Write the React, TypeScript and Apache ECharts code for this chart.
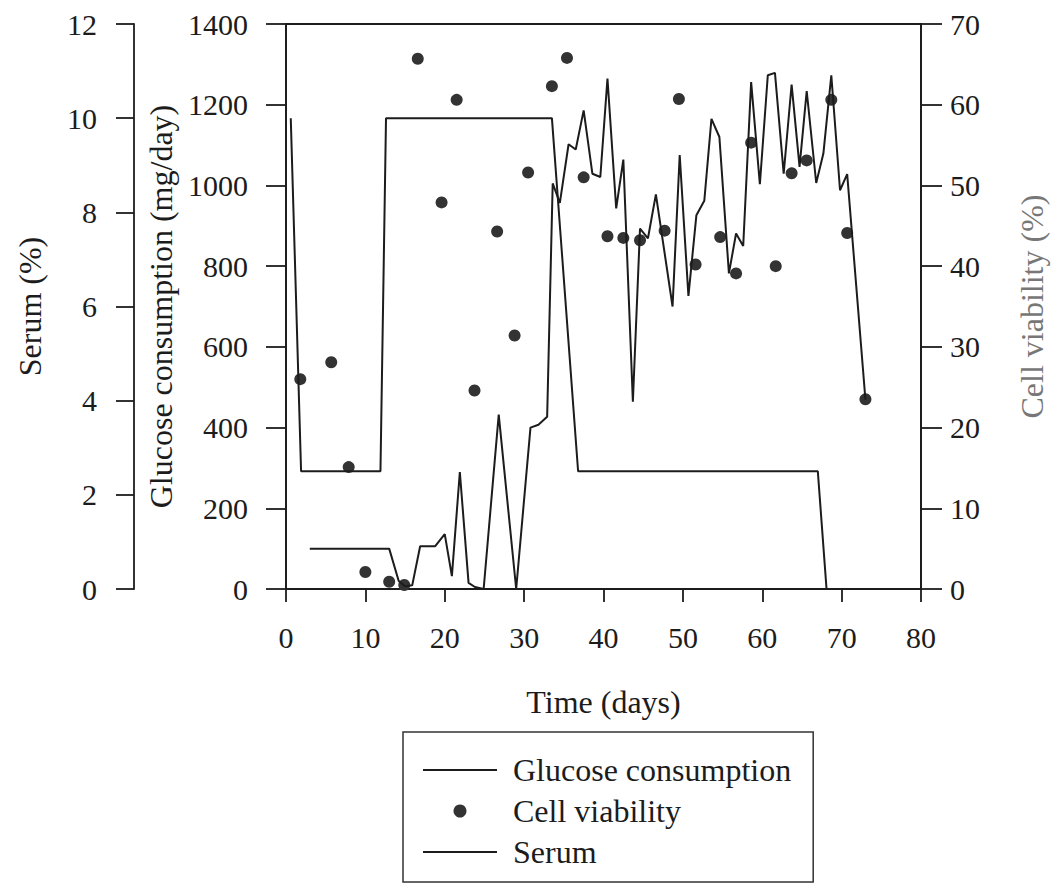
import React, { useEffect, useRef } from "react";
import * as echarts from "echarts";

const FONT = '"Liberation Serif", "Times New Roman", serif';
const INK = "#1c1c1c";

// Glucose consumption (mg/day): [day, value]
const glucoseDays = [3, 13, 14.2, 15, 15.9, 16.9, 18.8, 20, 20.9, 21.9, 23, 23.8, 24.9, 26.8, 29, 30.8, 31.8, 32.9, 33.6, 34.5, 35.6, 36.5, 37.5, 38.6, 39.6, 40.5, 41.6, 42.5, 43.7, 44.6, 45.6, 46.6, 48.7, 49.6, 50.7, 51.7, 52.7, 53.6, 54.6, 55.8, 56.7, 57.6, 58.6, 59.7, 60.7, 61.6, 62.7, 63.7, 64.7, 65.6, 66.8, 67.7, 68.7, 69.8, 70.7, 73];
const glucoseValues = [100, 100, 20, 7, 9, 106, 106, 136, 32, 290, 15, 5, 0, 432, 0, 400, 407, 427, 1005, 957, 1102, 1089, 1186, 1029, 1021, 1265, 943, 1064, 464, 893, 869, 978, 700, 1075, 726, 926, 962, 1165, 1120, 782, 881, 850, 1256, 1003, 1273, 1279, 1029, 1250, 1046, 1234, 1006, 1079, 1273, 988, 1028, 469];

// Cell viability (%)
const viabilityDays = [1.8, 5.7, 7.9, 10, 13, 14.9, 16.6, 19.6, 21.5, 23.75, 26.6, 28.8, 30.5, 33.5, 35.4, 37.5, 40.5, 42.5, 44.6, 47.7, 49.5, 51.6, 54.7, 56.7, 58.6, 61.7, 63.7, 65.6, 68.7, 70.7, 73];
const viabilityValues = [26, 28.1, 15.1, 2.1, 0.9, 0.5, 65.7, 47.9, 60.6, 24.6, 44.3, 31.4, 51.6, 62.3, 65.8, 51, 43.7, 43.5, 43.2, 44.4, 60.7, 40.2, 43.6, 39.1, 55.3, 40, 51.5, 53.1, 60.6, 44.1, 23.5];

// Serum (%)
const serumDays = [0.6, 1.9, 11.9, 12.6, 33.5, 36.8, 67, 68.1];
const serumValues = [10, 2.5, 2.5, 10, 10, 2.5, 2.5, 0];

const xTicks = { min: 0, max: 80, interval: 10 };
const glucoseTicks = { min: 0, max: 1400, interval: 200 };
const serumTicks = { min: 0, max: 12, interval: 2 };
const viabilityTicks = { min: 0, max: 70, interval: 10 };

const seriesNames = ["Glucose consumption", "Cell viability", "Serum"];

const pair = (xs: number[], ys: number[]) => xs.map((x, i) => [x, ys[i]]);

export default function App() {
  const ref = useRef<HTMLDivElement>(null);
  useEffect(() => {
    if (!ref.current) return;
    const chart = echarts.init(ref.current, null, { renderer: "svg" });
    const axisLine = { show: true, lineStyle: { color: INK, width: 1.8 } };
    const label = (margin: number) => ({
      color: INK,
      fontFamily: FONT,
      fontSize: 30,
      margin,
      formatter: (v: number) => String(v),
    });
    const nameStyle = { color: INK, fontFamily: FONT, fontSize: 32 };
    const lineIcon = "path://M0,0 L74,0 L74,2 L0,2 Z";
    chart.setOption({
      animation: false,
      backgroundColor: "#ffffff",
      grid: {
        left: 286,
        top: 24,
        width: 635,
        height: 565,
        show: true,
        borderColor: INK,
        borderWidth: 1.8,
        outerBoundsMode: "none",
        containLabel: false,
      },
      xAxis: {
        type: "value",
        ...xTicks,
        name: "Time (days)",
        nameLocation: "middle",
        nameGap: 97,
        nameTextStyle: nameStyle,
        axisLine,
        axisTick: { show: true, length: 13, lineStyle: { color: INK, width: 1.8 } },
        axisLabel: label(33),
        splitLine: { show: false },
      },
      yAxis: [
        {
          type: "value",
          position: "left",
          ...glucoseTicks,
          name: "Glucose consumption (mg/day)",
          nameLocation: "middle",
          nameGap: 103,
          nameTextStyle: nameStyle,
          axisLine,
          axisTick: { show: true, length: 20, lineStyle: { color: INK, width: 1.8 } },
          axisLabel: label(38),
          splitLine: { show: false },
        },
        {
          type: "value",
          position: "left",
          offset: 152,
          ...serumTicks,
          name: "Serum (%)",
          nameLocation: "middle",
          nameGap: 88,
          nameTextStyle: nameStyle,
          axisLine,
          axisTick: { show: true, length: 18, lineStyle: { color: INK, width: 1.8 } },
          axisLabel: label(37),
          splitLine: { show: false },
        },
        {
          type: "value",
          position: "right",
          ...viabilityTicks,
          name: "Cell viability (%)",
          nameLocation: "middle",
          nameRotate: 90,
          nameGap: 95,
          nameTextStyle: { ...nameStyle, color: "#777777" },
          axisLine,
          axisTick: { show: true, length: 21, lineStyle: { color: INK, width: 1.8 } },
          axisLabel: label(29),
          splitLine: { show: false },
        },
      ],
      legend: {
        orient: "vertical",
        left: 403,
        top: 732,
        padding: [22, 22, 14, 20],
        itemWidth: 74,
        itemHeight: 13,
        itemGap: 9,
        borderColor: "#333333",
        borderWidth: 1.5,
        textStyle: { color: INK, fontFamily: FONT, fontSize: 32, padding: [0, 0, 0, 11] },
        data: [
          { name: seriesNames[0], icon: lineIcon },
          { name: seriesNames[1], icon: "circle" },
          { name: seriesNames[2], icon: lineIcon },
        ],
      },
      series: [
        {
          name: seriesNames[0],
          type: "line",
          yAxisIndex: 0,
          data: pair(glucoseDays, glucoseValues),
          symbol: "none",
          lineStyle: { color: INK, width: 2 },
          itemStyle: { color: INK },
        },
        {
          name: seriesNames[1],
          type: "scatter",
          yAxisIndex: 2,
          data: pair(viabilityDays, viabilityValues),
          symbol: "circle",
          symbolSize: 12,
          itemStyle: { color: "#333333", opacity: 1 },
        },
        {
          name: seriesNames[2],
          type: "line",
          yAxisIndex: 1,
          data: pair(serumDays, serumValues),
          symbol: "none",
          lineStyle: { color: INK, width: 2 },
          itemStyle: { color: INK },
        },
      ],
    });
    return () => chart.dispose();
  }, []);
  return <div ref={ref} style={{ position: "absolute", left: 0, top: 0, width: 1052, height: 883 }} />;
}
